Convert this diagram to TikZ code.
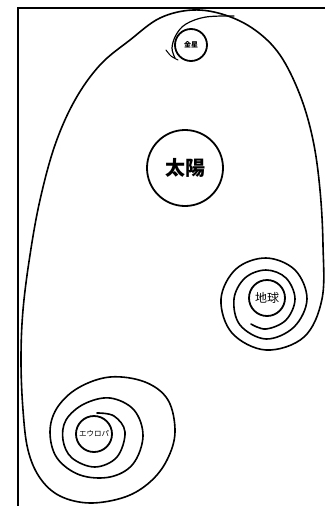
\documentclass[tikz,border=0pt]{standalone}
\usepackage{fontspec}
\newfontfamily\jp{Noto Sans CJK JP}
\begin{document}
\begin{tikzpicture}[x=1pt,y=-1pt,
  orbit/.style={draw=black,line width=1.6pt,line cap=round,line join=round},
  body/.style={circle,draw=black,line width=1.8pt,inner sep=0pt,font=\jp}]
\useasboundingbox (0,0) rectangle (324,506);
% frame
\draw[line width=2pt] (17.8,507) -- (17.8,7.7) -- (325,7.7);
% bodies
\node[body,minimum size=76pt,font=\jp\bfseries\fontsize{20}{20}\selectfont] (sun) at (185,168) {太陽};
\node[body,minimum size=32pt,font=\jp\bfseries\fontsize{7}{7}\selectfont] (venus) at (191,45) {金星};
\node[body,minimum size=36pt,font=\jp\fontsize{12}{12}\selectfont] (earth) at (267,298) {地球};
\node[body,minimum size=36pt,font=\jp\fontsize{7.5}{7.5}\selectfont] (europa) at (94,434) {エウロパ};
% big orbit: Earth spiral -> egg -> Europa spiral
\draw[orbit] plot[smooth,tension=0.6] coordinates {
 (251,324) (266,329) (286,320) (295,299) (286,278) (266,270) (245,278) (234,299)
 (240,325) (266,339) (294,327) (307,299) (295,270) (266,258) (236,269) (221,299)
 (232,333) (266,350) (304,337) (322,299) (323,245) (320,190) (313,140) (300,95)
 (280,55) (255,30) (225,15) (193,10) (160,18) (130,40) (100,65) (75,100) (55,145)
 (40,200) (30,255) (23,310) (21,360) (23,410) (28,450) (40,478) (60,496) (90,503)
 (125,497) (150,482) (167,460) (175,432) (168,400) (145,382) (110,377) (78,388)
 (57,408) (50,432) (57,458) (80,475) (110,477) (133,464) (143,436) (134,410)
 (110,398) (84,404) (66,420) (63,440) (72,458) (95,467) (117,457) (125,432)
 (114,416) (97,413)};
% Venus spiral tail
\draw[orbit,line width=1.2pt] plot[smooth,tension=0.6] coordinates {
 (234,16) (206,17) (186,24) (176,35) (172,48) (175,58)};
\draw[orbit,line width=1pt] plot[smooth] coordinates {(166,50) (171,56) (178,60)};
\end{tikzpicture}
\end{document}
